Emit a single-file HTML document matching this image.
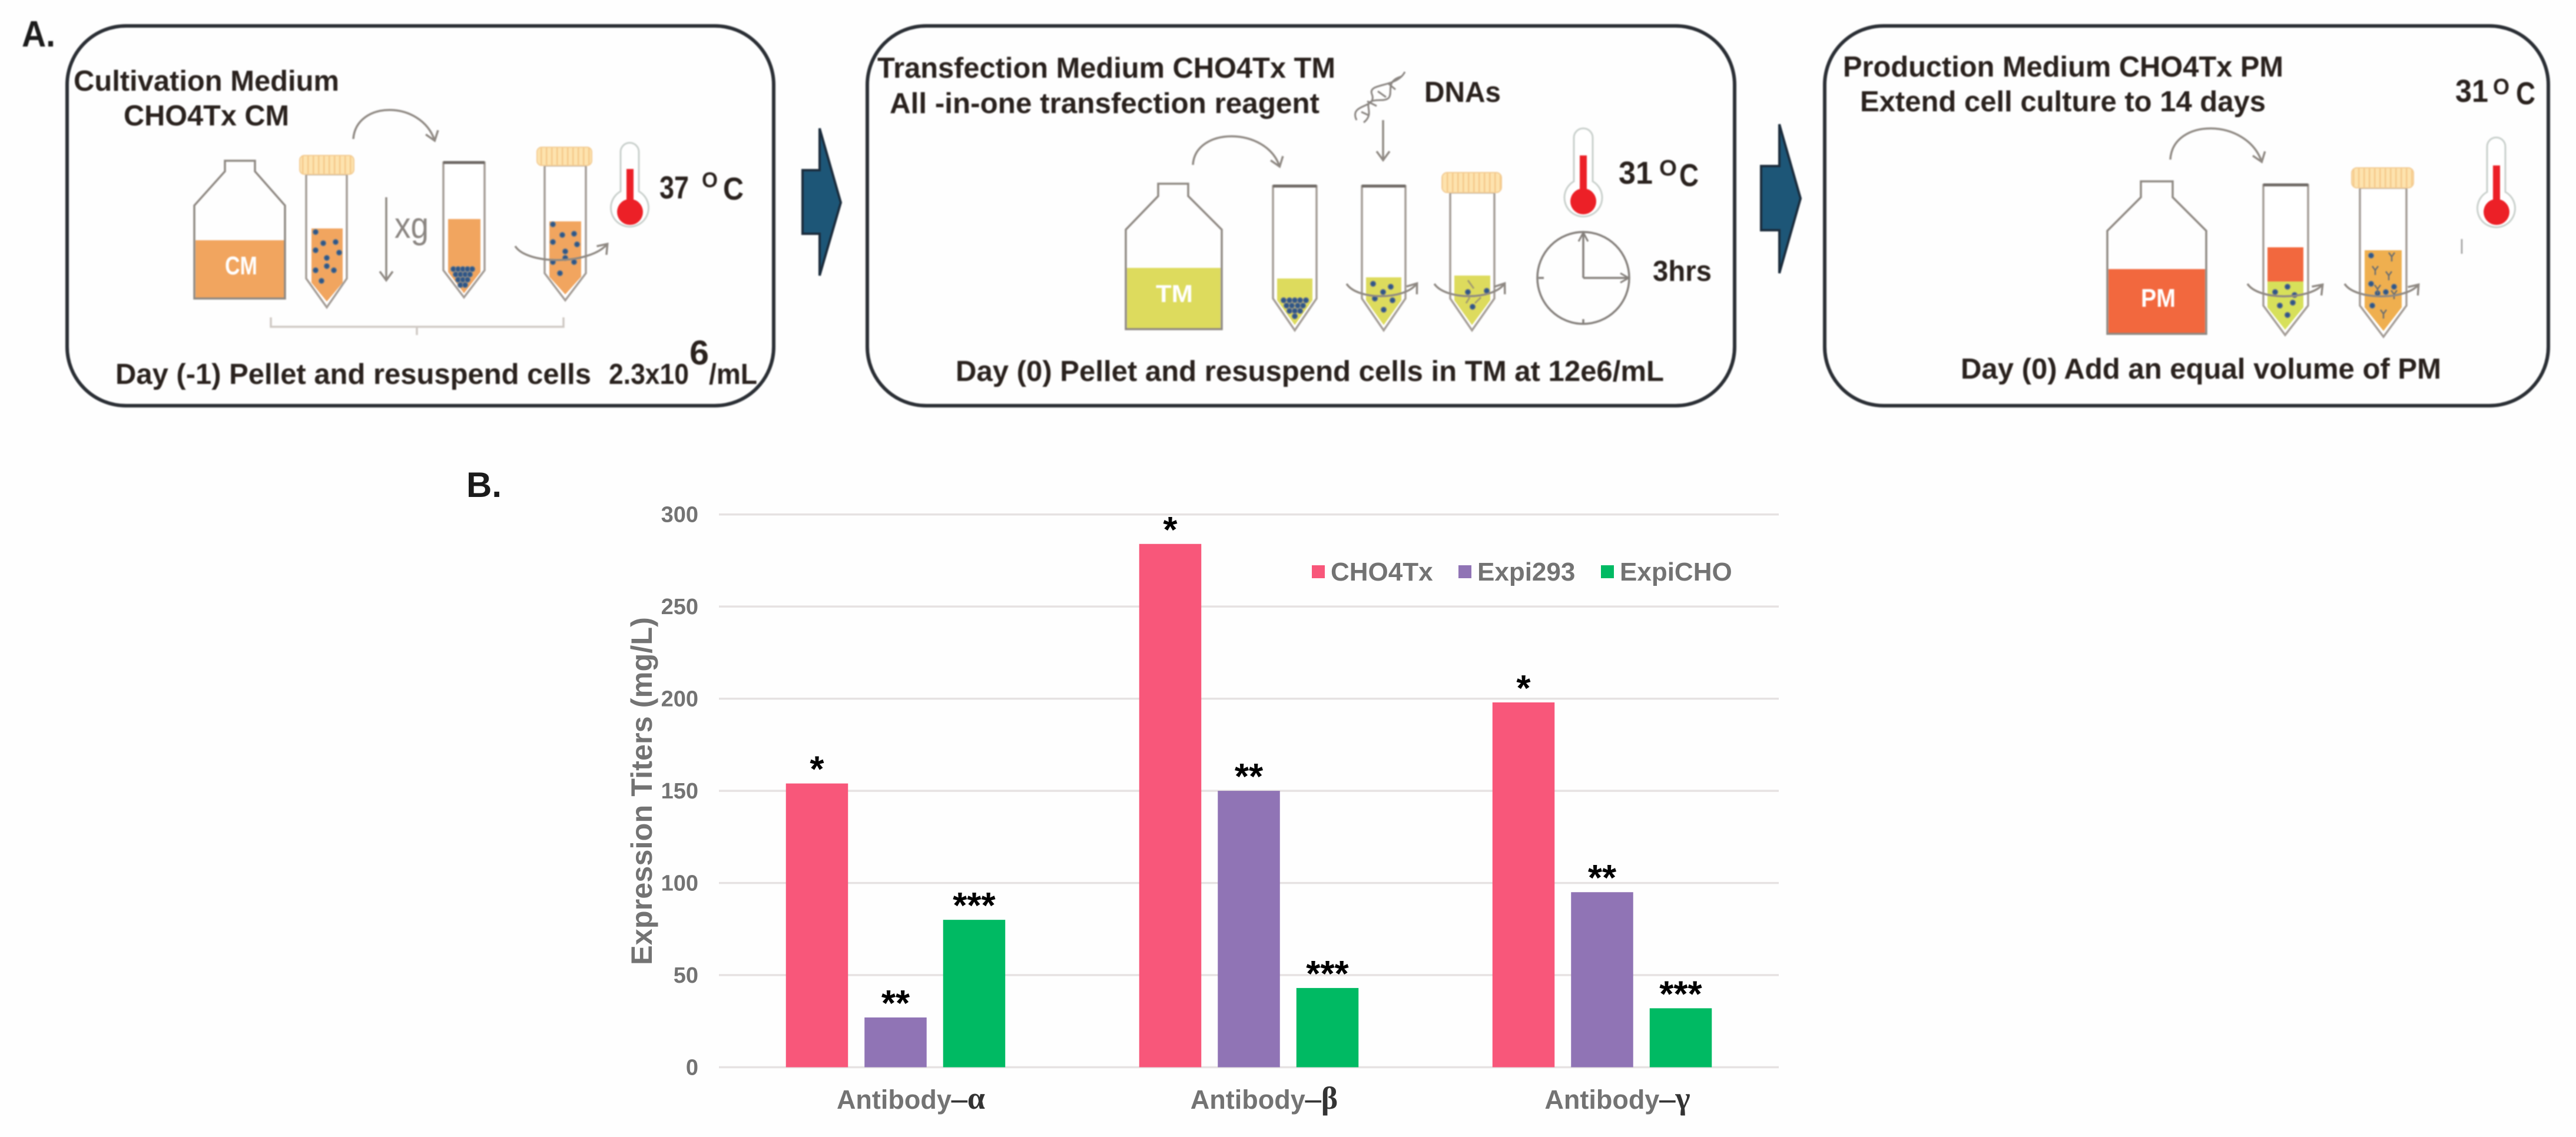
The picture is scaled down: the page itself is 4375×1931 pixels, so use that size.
<!DOCTYPE html>
<html lang="en">
<head>
<meta charset="utf-8">
<title>CHO4Tx transient expression workflow and titers</title>
<style>
html,body{margin:0;padding:0;background:#fefefe;width:4375px;height:1931px;overflow:hidden}
svg{display:block}
text{font-family:"Liberation Sans",sans-serif}
.pt{font-weight:bold;font-size:49px;fill:#2a221e}
.ln{fill:none;stroke:#8f8983;stroke-width:3.5}
.tube{fill:#fff;stroke:#a39c96;stroke-width:3.5}
.dots circle{fill:#2f5687;stroke:#77808a;stroke-width:1.5}
.blur{filter:blur(1.1px)}
.wl{font-weight:bold;fill:#fff}
</style>
</head>
<body>
<svg id="figure" xmlns="http://www.w3.org/2000/svg" width="4375" height="1931" viewBox="0 0 4375 1931">
<defs>
<pattern id="ribs" width="9" height="10" patternUnits="userSpaceOnUse"><rect width="9" height="10" fill="#fde3ae"/><rect width="2.5" height="10" fill="#f5c98a"/></pattern>
<marker id="ah" markerWidth="26" markerHeight="26" refX="22" refY="13" orient="auto" markerUnits="userSpaceOnUse"><path d="M8 2 L23 13 L8 24" fill="none" stroke="#8f8983" stroke-width="3.5"/></marker>
</defs>
<rect width="4375" height="1931" fill="#fefefe"/>

<g class="blur">
<text x="37" y="79" font-size="62" font-weight="bold" fill="#1b1b1b" textLength="57" lengthAdjust="spacingAndGlyphs">A.</text>

<!-- step 1 -->
<g>
<rect x="114" y="44" width="1200" height="645" rx="100" ry="100" fill="#fefefe" stroke="#2b2f35" stroke-width="6"/>
<text class="pt" x="125" y="154" textLength="451" lengthAdjust="spacingAndGlyphs">Cultivation Medium</text>
<text class="pt" x="210" y="213" textLength="281" lengthAdjust="spacingAndGlyphs">CHO4Tx CM</text>
<g>
<rect x="332" y="408" width="151" height="98" fill="#f1a55f"/>
<path d="M382 273 H433 V291 L484 349 V507 H330 V349 L382 291 Z" fill="none" stroke="#8f8983" stroke-width="3.5"/>
<text class="wl" x="382" y="466" font-size="44" textLength="55" lengthAdjust="spacingAndGlyphs">CM</text>
</g>
<g>
<path class="tube" d="M520 296 V473 L555 522 L589 473 V296 Z"/>
<path d="M529 388 H582 V480 L555 512 L529 480 Z" fill="#f1a55f"/>
<rect x="509" y="264" width="92" height="32" rx="8" fill="url(#ribs)" stroke="#f3cd96" stroke-width="2"/>
<g class="dots"><circle cx="536" cy="394" r="4.5"/><circle cx="549" cy="413" r="4.5"/><circle cx="570" cy="411" r="4.5"/><circle cx="536" cy="425" r="4.5"/><circle cx="576" cy="429" r="4.5"/><circle cx="555" cy="438" r="4.5"/><circle cx="536" cy="459" r="4.5"/><circle cx="555" cy="452" r="4.5"/><circle cx="567" cy="459" r="4.5"/><circle cx="546" cy="477" r="4.5"/></g>
</g>
<path class="ln" d="M600 236 C605 170 715 170 738 238" marker-end="url(#ah)"/>
<path class="ln" d="M656 335 V475" marker-end="url(#ah)"/>
<text x="670" y="404" font-size="62" fill="#8b8682" textLength="58" lengthAdjust="spacingAndGlyphs">xg</text>
<g>
<path class="tube" d="M753 276 H823 V459 L788 505 L753 459 Z"/>
<path d="M753 276 H823" stroke="#6f6a66" stroke-width="5"/>
<path d="M761 372 H816 V462 L788 498 L761 462 Z" fill="#f1a55f"/>
<g class="dots"><circle cx="770" cy="457" r="4.5"/><circle cx="778" cy="457" r="4.5"/><circle cx="786" cy="457" r="4.5"/><circle cx="794" cy="457" r="4.5"/><circle cx="802" cy="457" r="4.5"/><circle cx="774" cy="466" r="4.5"/><circle cx="782" cy="466" r="4.5"/><circle cx="790" cy="466" r="4.5"/><circle cx="798" cy="466" r="4.5"/><circle cx="778" cy="475" r="4.5"/><circle cx="786" cy="475" r="4.5"/><circle cx="794" cy="475" r="4.5"/><circle cx="782" cy="484" r="4.5"/><circle cx="790" cy="484" r="4.5"/></g>
</g>
<g>
<path class="tube" d="M925 281 V464 L960 510 L995 464 V281 Z"/>
<path d="M933 376 H987 V470 L960 500 L933 470 Z" fill="#f1a55f"/>
<rect x="912" y="250" width="93" height="31" rx="8" fill="url(#ribs)" stroke="#f3cd96" stroke-width="2"/>
<g class="dots"><circle cx="939" cy="381" r="4.5"/><circle cx="955" cy="399" r="4.5"/><circle cx="975" cy="397" r="4.5"/><circle cx="939" cy="411" r="4.5"/><circle cx="980" cy="415" r="4.5"/><circle cx="960" cy="427" r="4.5"/><circle cx="939" cy="445" r="4.5"/><circle cx="975" cy="445" r="4.5"/><circle cx="960" cy="438" r="4.5"/><circle cx="951" cy="464" r="4.5"/></g>
<path class="ln" d="M875 418 C895 450 1000 450 1031 415" stroke-width="3" marker-end="url(#ah)"/>
</g>
<path d="M460 539 V555 H957 V539 M708 555 V569" fill="none" stroke="#cfc9c4" stroke-width="3.5"/>
<g>
<path d="M1054 325 V258 a15 15 0 0 1 31 0 V325 a32 32 0 1 1 -31 0 Z" fill="#fff" stroke="#c9d0cc" stroke-width="3"/>
<circle cx="1070" cy="360" r="22" fill="#ec2027"/><rect x="1064" y="287" width="12" height="60" fill="#ec2027"/>
</g>
<text class="pt" x="1120" y="337" style="font-size:54px" textLength="50" lengthAdjust="spacingAndGlyphs">37</text>
<text class="pt" x="1192" y="318" style="font-size:36px" textLength="27" lengthAdjust="spacingAndGlyphs">O</text>
<text class="pt" x="1228" y="339" style="font-size:54px" textLength="35" lengthAdjust="spacingAndGlyphs">C</text>
<text class="pt" x="196" y="652" textLength="808" lengthAdjust="spacingAndGlyphs">Day (-1) Pellet and resuspend cells</text>
<text class="pt" x="1034" y="652" textLength="136" lengthAdjust="spacingAndGlyphs">2.3x10</text>
<text class="pt" x="1171" y="619" style="font-size:58px" textLength="33" lengthAdjust="spacingAndGlyphs">6</text>
<text class="pt" x="1204" y="652" textLength="82" lengthAdjust="spacingAndGlyphs">/mL</text>
</g>

<polygon points="1363,289 1392,289 1392,218 1428,344 1392,468 1392,397 1363,397" fill="#1d5677" stroke="#1b2c3c" stroke-width="4"/>

<!-- step 2 -->
<g>
<rect x="1473" y="44" width="1473" height="645" rx="100" ry="100" fill="#fefefe" stroke="#2b2f35" stroke-width="6"/>
<text class="pt" x="1490" y="132" textLength="778" lengthAdjust="spacingAndGlyphs">Transfection Medium CHO4Tx TM</text>
<text class="pt" x="1511" y="192" textLength="730" lengthAdjust="spacingAndGlyphs">All -in-one transfection reagent</text>
<text class="pt" x="2419" y="173" textLength="130" lengthAdjust="spacingAndGlyphs">DNAs</text>
<g fill="none" stroke="#8a8581" stroke-width="3">
<path d="M2304 204 C2290 175 2340 185 2330 160 C2322 140 2372 150 2386 122"/>
<path d="M2316 208 C2340 190 2304 170 2345 170 C2378 170 2344 140 2380 130"/>
<path d="M2312 190 L2325 196 M2322 172 L2338 180 M2340 155 L2354 165 M2358 142 L2370 152"/>
</g>
<path class="ln" d="M2349 204 V271" marker-end="url(#ah)" stroke-width="3"/>
<path class="ln" d="M2026 280 C2030 215 2150 215 2173 282" marker-end="url(#ah)"/>
<g>
<rect x="1914" y="455" width="159" height="103" fill="#dddb5d"/>
<path d="M1967 312 H2018 V333 L2075 390 V559 H1912 V390 L1967 333 Z" fill="none" stroke="#8f8983" stroke-width="3.5"/>
<text class="wl" x="1963" y="513" font-size="42" font-weight="normal" textLength="63" lengthAdjust="spacingAndGlyphs" fill="#fbf6d8">TM</text>
</g>
<g>
<path class="tube" d="M2162 316 H2236 V507 L2199 561 L2162 507 Z"/>
<path d="M2162 316 H2236" stroke="#6f6a66" stroke-width="5"/>
<path d="M2169 473 H2229 V510 L2199 552 L2169 510 Z" fill="#dddb5d"/>
<g class="dots"><circle cx="2180" cy="510" r="4.5"/><circle cx="2190" cy="510" r="4.5"/><circle cx="2199" cy="510" r="4.5"/><circle cx="2208" cy="510" r="4.5"/><circle cx="2218" cy="510" r="4.5"/><circle cx="2185" cy="519" r="4.5"/><circle cx="2194" cy="519" r="4.5"/><circle cx="2204" cy="519" r="4.5"/><circle cx="2213" cy="519" r="4.5"/><circle cx="2190" cy="528" r="4.5"/><circle cx="2199" cy="528" r="4.5"/><circle cx="2208" cy="528" r="4.5"/><circle cx="2199" cy="537" r="4.5"/></g>
</g>
<g>
<path class="tube" d="M2313 316 H2387 V507 L2350 561 L2313 507 Z"/>
<path d="M2313 316 H2387" stroke="#6f6a66" stroke-width="5"/>
<path d="M2320 471 H2380 V510 L2350 552 L2320 510 Z" fill="#dddb5d"/>
<g class="dots"><circle cx="2332" cy="482" r="4.5"/><circle cx="2362" cy="487" r="4.5"/><circle cx="2349" cy="496" r="4.5"/><circle cx="2335" cy="507" r="4.5"/><circle cx="2365" cy="510" r="4.5"/><circle cx="2350" cy="526" r="4.5"/></g>
<path class="ln" d="M2287 482 C2305 510 2385 510 2406 482" stroke-width="3" marker-end="url(#ah)"/>
</g>
<g>
<path class="tube" d="M2463 327 V507 L2500 561 L2538 507 V327 Z"/>
<path d="M2470 468 H2531 V510 L2500 552 L2470 510 Z" fill="#dddb5d"/>
<rect x="2449" y="293" width="101" height="34" rx="9" fill="url(#ribs)" stroke="#f3cd96" stroke-width="2"/>
<g class="dots"><circle cx="2493" cy="496" r="4.5"/><circle cx="2525" cy="494" r="4.5"/><circle cx="2501" cy="521" r="4.5"/></g>
<path d="M2493 476 L2503 490 M2515 505 L2505 515 M2490 515 L2496 505" stroke="#a39c70" stroke-width="3"/>
<path class="ln" d="M2436 482 C2455 510 2535 510 2555 482" stroke-width="3" marker-end="url(#ah)"/>
</g>
<g>
<path d="M2673 308 V234 a15 15 0 0 1 32 0 V308 a32 32 0 1 1 -32 0 Z" fill="#fff" stroke="#c9d0cc" stroke-width="3"/>
<circle cx="2689" cy="342" r="22" fill="#ec2027"/><rect x="2683" y="264" width="12" height="65" fill="#ec2027"/>
</g>
<text class="pt" x="2749" y="312" style="font-size:54px" textLength="58" lengthAdjust="spacingAndGlyphs">31</text>
<text class="pt" x="2818" y="298" style="font-size:38px" textLength="30" lengthAdjust="spacingAndGlyphs">O</text>
<text class="pt" x="2852" y="316" style="font-size:54px" textLength="33" lengthAdjust="spacingAndGlyphs">C</text>
<g fill="none" stroke="#85807c" stroke-width="3.5">
<circle cx="2689" cy="472" r="78"/>
<path d="M2689 472 V397 M2689 472 H2765"/>
<path d="M2681 410 L2689 395 L2697 410 M2752 464 L2766 472 L2752 480" stroke-width="3"/>
<path d="M2613 472 H2622 M2689 542 V550"/>
</g>
<text class="pt" x="2807" y="477" textLength="100" lengthAdjust="spacingAndGlyphs">3hrs</text>
<text class="pt" x="1623" y="647" textLength="1203" lengthAdjust="spacingAndGlyphs">Day (0) Pellet and resuspend cells in TM at 12e6/mL</text>
</g>

<polygon points="2991,282 3022,282 3022,211 3058,337 3022,464 3022,391 2991,391" fill="#1d5677" stroke="#1b2c3c" stroke-width="4"/>

<!-- step 3 -->
<g>
<rect x="3099" y="44" width="1229" height="645" rx="100" ry="100" fill="#fefefe" stroke="#2b2f35" stroke-width="6"/>
<text class="pt" x="3130" y="130" textLength="748" lengthAdjust="spacingAndGlyphs">Production Medium CHO4Tx PM</text>
<text class="pt" x="3159" y="189" textLength="689" lengthAdjust="spacingAndGlyphs">Extend cell culture to 14 days</text>
<text class="pt" x="4170" y="173" style="font-size:54px" textLength="56" lengthAdjust="spacingAndGlyphs">31</text>
<text class="pt" x="4234" y="160" style="font-size:38px" textLength="28" lengthAdjust="spacingAndGlyphs">O</text>
<text class="pt" x="4273" y="177" style="font-size:54px" textLength="33" lengthAdjust="spacingAndGlyphs">C</text>
<g>
<path d="M4224 326 V249 a15 15 0 0 1 31 0 V326 a32 32 0 1 1 -31 0 Z" fill="#fff" stroke="#c9d0cc" stroke-width="3"/>
<circle cx="4240" cy="360" r="22" fill="#ec2027"/><rect x="4234" y="281" width="12" height="65" fill="#ec2027"/>
</g>
<path d="M4181 406 V431" stroke="#9a9a9a" stroke-width="2.5"/>
<path class="ln" d="M3686 271 C3690 200 3815 200 3841 274" marker-end="url(#ah)"/>
<g>
<rect x="3581" y="457" width="164" height="109" fill="#f2683e"/>
<path d="M3636 308 H3690 V335 L3747 392 V567 H3579 V392 L3636 335 Z" fill="none" stroke="#8f8983" stroke-width="3.5"/>
<text class="wl" x="3636" y="521" font-size="44" textLength="59" lengthAdjust="spacingAndGlyphs">PM</text>
</g>
<g>
<path class="tube" d="M3844 314 H3920 V519 L3881 569 L3844 519 Z"/>
<path d="M3844 314 H3920" stroke="#6f6a66" stroke-width="5"/>
<rect x="3851" y="420" width="61" height="58" fill="#f2683e"/>
<path d="M3851 478 H3912 V522 L3881 560 L3851 522 Z" fill="#d7e05a"/>
<g class="dots"><circle cx="3885" cy="487" r="4.5"/><circle cx="3864" cy="496" r="4.5"/><circle cx="3897" cy="501" r="4.5"/><circle cx="3894" cy="514" r="4.5"/><circle cx="3872" cy="519" r="4.5"/><circle cx="3885" cy="535" r="4.5"/></g>
<path class="ln" d="M3817 482 C3835 510 3920 510 3944 484" stroke-width="3" marker-end="url(#ah)"/>
</g>
<g>
<path class="tube" d="M4008 319 V519 L4048 572 L4087 519 V319 Z"/>
<path d="M4016 425 H4079 V522 L4048 562 L4016 522 Z" fill="#efaf4f"/>
<rect x="3994" y="285" width="105" height="34" rx="9" fill="url(#ribs)" stroke="#f3cd96" stroke-width="2"/>
<g class="dots"><circle cx="4027" cy="434" r="4.5"/><circle cx="4066" cy="487" r="4.5"/><circle cx="4027" cy="482" r="4.5"/><circle cx="4052" cy="496" r="4.5"/><circle cx="4029" cy="519" r="4.5"/><circle cx="4038" cy="498" r="4.5"/></g>
<g fill="none" stroke="#6d6f70" stroke-width="2.5">
<path transform="translate(4062,436)" d="M-5 -7 L0 0 L5 -7 M0 0 V8"/><path transform="translate(4034,459)" d="M-5 -7 L0 0 L5 -7 M0 0 V8"/><path transform="translate(4057,468)" d="M-5 -7 L0 0 L5 -7 M0 0 V8"/><path transform="translate(4038,491)" d="M-5 -7 L0 0 L5 -7 M0 0 V8"/><path transform="translate(4066,500)" d="M-5 -7 L0 0 L5 -7 M0 0 V8"/><path transform="translate(4048,533)" d="M-5 -7 L0 0 L5 -7 M0 0 V8"/>
</g>
<path class="ln" d="M3982 482 C4000 510 4085 510 4107 484" stroke-width="3" marker-end="url(#ah)"/>
</g>
<text class="pt" x="3330" y="643" textLength="816" lengthAdjust="spacingAndGlyphs">Day (0) Add an equal volume of PM</text>
</g>
</g>

<text x="792" y="844" font-size="60" font-weight="bold" fill="#1b1b1b">B.</text>
<g id="chart"></g>
</svg>

<script>
const categories = ['Antibody–α', 'Antibody–β', 'Antibody–γ'];
const seriesNames = ['CHO4Tx', 'Expi293', 'ExpiCHO'];
const cho4txValues = [154, 284, 198];
const expi293Values = [27, 150, 95];
const expiChoValues = [80, 43, 32];
const significanceMarks = ['*', '**', '***'];
const yTickValues = [0, 50, 100, 150, 200, 250, 300];
const yTickLabels = ['0', '50', '100', '150', '200', '250', '300'];

const NS = 'http://www.w3.org/2000/svg';
const chart = document.getElementById('chart');
const seriesValues = [cho4txValues, expi293Values, expiChoValues];
const seriesColors = ['#f8577a', '#9074b5', '#00ba63'];
const plot = {left: 1221, right: 3021, top: 873.7, bottom: 1812.5, yMax: 300};
const barWidth = 105.5, barStep = 133.5;

function yScale(v) { return plot.bottom - (v / plot.yMax) * (plot.bottom - plot.top); }
function bandWidth() { return (plot.right - plot.left) / categories.length; }
function xCenter(i) { return plot.left + bandWidth() * (i + 0.5); }
function barX(i, s) { return xCenter(i) + (s - (seriesValues.length - 1) / 2) * barStep - barWidth / 2; }
function make(tag, attrs, text) {
  const el = document.createElementNS(NS, tag);
  for (const k in attrs) el.setAttribute(k, attrs[k]);
  if (text !== undefined) el.textContent = text;
  chart.appendChild(el);
  return el;
}

yTickValues.forEach(function (v, i) {
  const line = make('line', {x1: plot.left, x2: plot.right, y1: yScale(v), y2: yScale(v), stroke: '#e6e2e2', 'stroke-width': 3.5});
  
  
  const label = make('text', {x: 1186, y: yScale(v) + 13, 'text-anchor': 'end', 'font-size': 38, 'font-weight': 'bold', fill: '#737373'}, yTickLabels[i]);
  
  
});

const yTitle = make('text', {transform: 'translate(1107,1639) rotate(-90)', 'font-size': 50, 'font-weight': 'bold', fill: '#737373', textLength: 591, lengthAdjust: 'spacingAndGlyphs'}, 'Expression Titers (mg/L)');



categories.forEach(function (cat, i) {
  seriesValues.forEach(function (vals, s) {
    const bar = make('rect', {x: barX(i, s), y: yScale(vals[i]), width: barWidth, height: plot.bottom - yScale(vals[i]), fill: seriesColors[s]});
    
    
    const star = make('text', {x: barX(i, s) + barWidth / 2, y: yScale(vals[i]) - 3, 'text-anchor': 'middle', 'font-size': 62, 'font-weight': 'bold', fill: '#000'}, significanceMarks[s]);
    
    
  });
  const parts = cat.split('–');
  const label = make('text', {x: xCenter(i) + 26, y: 1883, 'text-anchor': 'middle', 'font-size': 45, 'font-weight': 'bold', fill: '#737373'});
  
  
  const name = document.createElementNS(NS, 'tspan');
  name.textContent = parts[0];
  label.appendChild(name);
  const greek = document.createElementNS(NS, 'tspan');
  greek.setAttribute('font-family', '"Liberation Serif", serif');
  greek.setAttribute('font-size', '54');
  greek.setAttribute('font-weight', 'bold');
  greek.setAttribute('fill', '#333333');
  greek.textContent = '–' + parts[1];
  label.appendChild(greek);
});

const legendX = [2228, 2477, 2719];
seriesNames.forEach(function (name, s) {
  const swatch = make('rect', {x: legendX[s], y: 960, width: 22, height: 22, fill: seriesColors[s]});
  
  
  const label = make('text', {x: legendX[s] + 32, y: 986, 'font-size': 44, 'font-weight': 'bold', fill: '#737373'}, name);
  
  
});
</script>
</body>
</html>
